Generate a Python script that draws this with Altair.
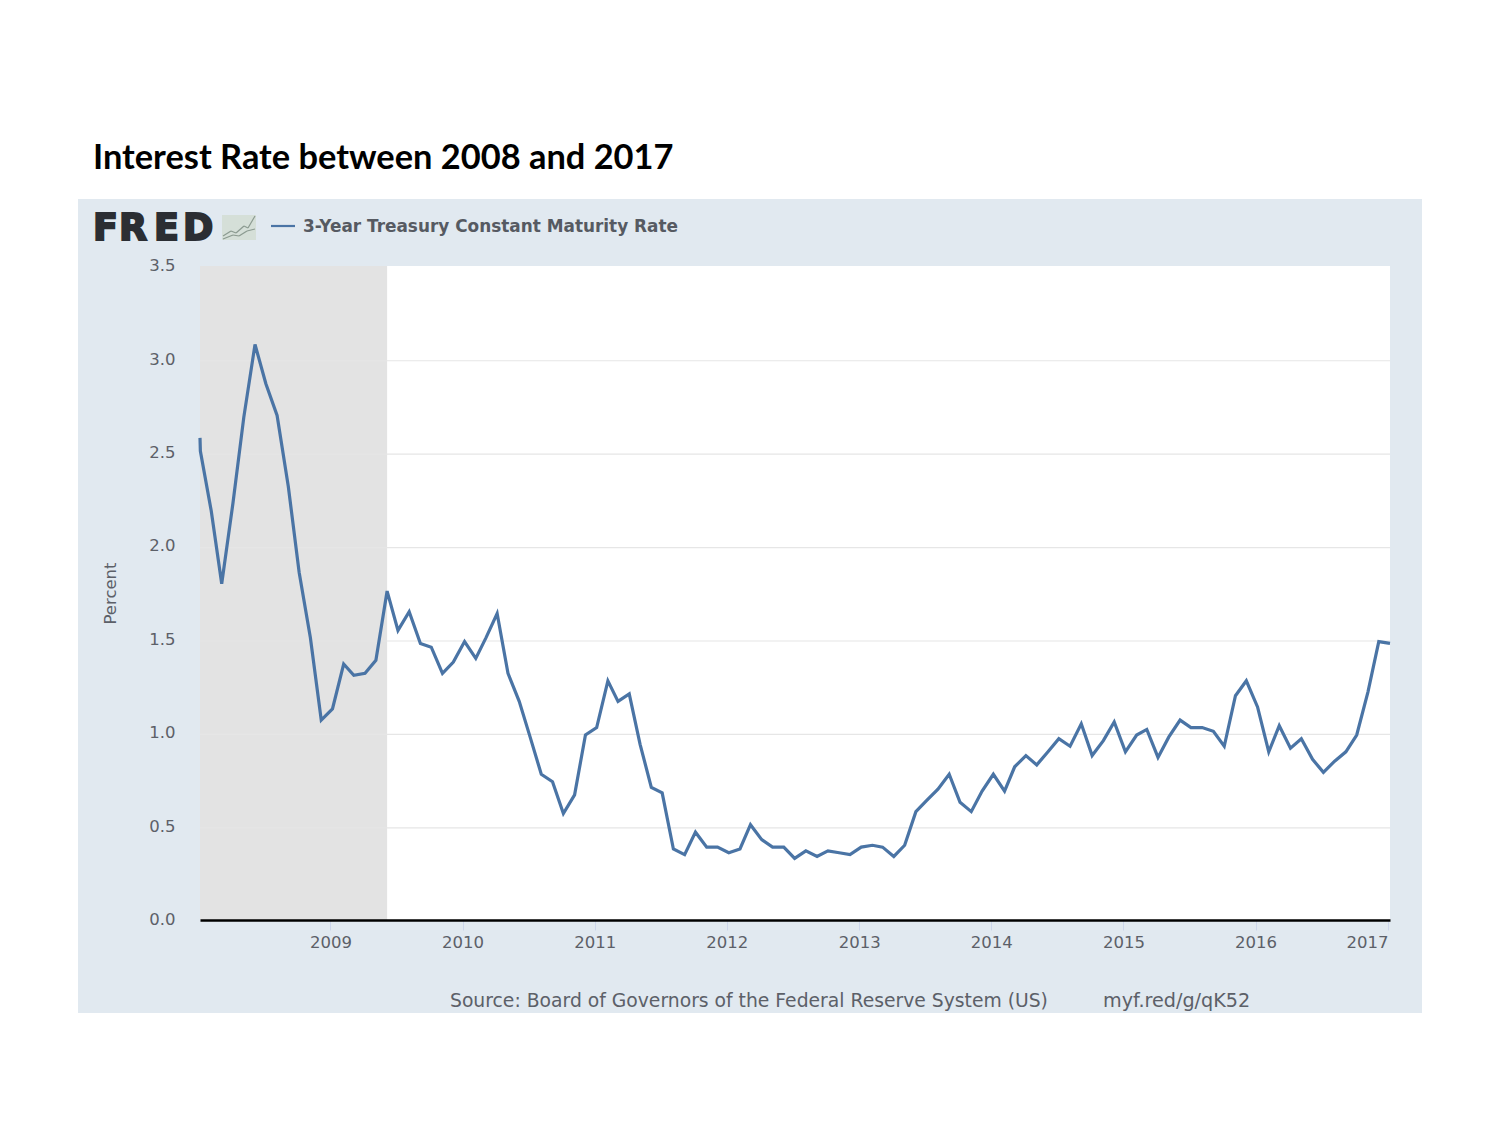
import altair as alt
import pandas as pd

TITLE = "Interest Rate between 2008 and 2017"
SERIES = "3-Year Treasury Constant Maturity Rate"
SOURCE = "Source: Board of Governors of the Federal Reserve System (US)"
LINK = "myf.red/g/qK52"

rates_2008 = [2.51, 2.19, 1.80, 2.23, 2.69, 3.08, 2.87, 2.70, 2.32, 1.86, 1.51, 1.07]
rates_2009 = [1.13, 1.37, 1.31, 1.32, 1.39, 1.76, 1.55, 1.65, 1.48, 1.46, 1.32, 1.38]
rates_2010 = [1.49, 1.40, 1.51, 1.64, 1.32, 1.17, 0.98, 0.78, 0.74, 0.57, 0.67, 0.99]
rates_2011 = [1.03, 1.28, 1.17, 1.21, 0.94, 0.71, 0.68, 0.38, 0.35, 0.47, 0.39, 0.39]
rates_2012 = [0.36, 0.38, 0.51, 0.43, 0.39, 0.39, 0.33, 0.37, 0.34, 0.37, 0.36, 0.35]
rates_2013 = [0.39, 0.40, 0.39, 0.34, 0.40, 0.58, 0.64, 0.70, 0.78, 0.63, 0.58, 0.69]
rates_2014 = [0.78, 0.69, 0.82, 0.88, 0.83, 0.90, 0.97, 0.93, 1.05, 0.88, 0.96, 1.06]
rates_2015 = [0.90, 0.99, 1.02, 0.87, 0.98, 1.07, 1.03, 1.03, 1.01, 0.93, 1.20, 1.28]
rates_2016 = [1.14, 0.90, 1.04, 0.92, 0.97, 0.86, 0.79, 0.85, 0.90, 0.99, 1.22, 1.49]
rates_2017 = [1.48]

rates = (rates_2008 + rates_2009 + rates_2010 + rates_2011 + rates_2012 + rates_2013
         + rates_2014 + rates_2015 + rates_2016 + rates_2017)
months = [d.strftime("%Y-%m-%d") for d in pd.date_range("2008-01-01", periods=len(rates), freq="MS")]
# the reference's line enters the plot from just above its January value
entry_date = ["2008-01-01"]
entry_rate = [2.58]
months[0] = "2008-01-02"

y_ticks = [0.0, 0.5, 1.0, 1.5, 2.0, 2.5, 3.0, 3.5]
grid_levels = [0.5, 1.0, 1.5, 2.0, 2.5, 3.0]
year_ticks = [f"{y}-01-01" for y in range(2009, 2018)]
recession_start = ["2008-01-01"]
recession_end = ["2009-06-01"]

df = pd.DataFrame({"date": entry_date + months, "rate": entry_rate + rates})
df_grid = pd.DataFrame({"level": grid_levels})
df_rec = pd.DataFrame({"start": recession_start, "end": recession_end})

W, H = 1190, 654
PANEL = "#e1e9f0"
LINE = "#4a74a5"
TEXT = "#5c6068"

x_scale = alt.Scale(domain=["2008-01-01", "2017-01-01"])
y_scale = alt.Scale(domain=[0, 3.5], nice=False)

x_axis = alt.Axis(
    values=year_ticks, format="%Y", title=None, grid=False, zindex=1,
    domainColor="#000000", domainWidth=2.5,
    tickColor="#ccd6eb", tickSize=10, tickWidth=1, tickOffset=-2,
    labelFlush=True, labelFont="DejaVu Sans", labelFontSize=16.5,
    labelColor=TEXT, labelPadding=4,
)
y_axis = alt.Axis(
    values=y_ticks, format=".1f", title="Percent", grid=False, zindex=1,
    domain=False, ticks=False, labelFont="DejaVu Sans", labelFontSize=16.5,
    labelColor=TEXT, labelPadding=25, labelOffset=-0.4, titleFont="DejaVu Sans",
    titleFontSize=16.5, titleFontWeight="normal", titleColor=TEXT, titlePadding=30,
)


def label(text, px, py, size, color=TEXT, weight="normal", font="DejaVu Sans", stroke=0):
    return alt.Chart().mark_text(
        text=text, align="left", baseline="alphabetic", fontSize=size,
        font=font, fontWeight=weight, color=color, stroke=color, strokeWidth=stroke,
    ).encode(x=alt.value(px - 200), y=alt.value(py - 266))


def box(x0, x1, y0, y1, color):
    return alt.Chart().mark_rect(color=color).encode(
        x=alt.value(x0 - 200), x2=alt.value(x1 - 200),
        y=alt.value(y0 - 266), y2=alt.value(y1 - 266),
    )


def seg(x0, y0, x1, y1, color, width=1.2):
    return alt.Chart().mark_rule(color=color, strokeWidth=width).encode(
        x=alt.value(x0 - 200), x2=alt.value(x1 - 200),
        y=alt.value(y0 - 266), y2=alt.value(y1 - 266),
    )


panel = box(78, 1422, 199, 1013, PANEL)
plot_bg = box(200, 1390, 266, 920, "#ffffff")

recession = alt.Chart(df_rec).mark_rect(color="#e3e3e3").encode(
    x=alt.X("start:T", scale=x_scale, axis=x_axis),
    x2="end:T",
    y=alt.value(0),
    y2=alt.value(H),
)

grid = alt.Chart(df_grid).mark_rule(color="#e6e6e6", strokeWidth=1.2, yOffset=1.3).encode(
    y=alt.Y("level:Q", scale=y_scale, axis=y_axis),
)

series = alt.Chart(df).mark_line(color=LINE, strokeWidth=3.2, strokeJoin="miter").encode(
    x=alt.X("date:T", scale=x_scale, axis=x_axis),
    y=alt.Y("rate:Q", scale=y_scale, axis=y_axis),
)

logo = [
    label(ch, px, 239.5, 36.5, "#2b2e33", "bold", stroke=2)
    for ch, px in zip("FRED", [93, 119, 154, 183])
]
icon = [box(222, 256, 215, 240, "#d5dfd8")]
icon += [seg(*s, "#8b9a90") for s in [
    (223, 236, 231, 231), (231, 231, 236, 233), (236, 233, 244, 226),
    (244, 226, 248, 228), (248, 228, 255, 216),
    (223, 239, 233, 235), (233, 235, 239, 236), (239, 236, 247, 231), (247, 231, 255, 229),
]]
legend_key = seg(271, 226, 295, 226, LINE, 2.2)
legend_text = label(SERIES, 303, 232, 16.9, "#565a62", "bold")
source = label(SOURCE, 450, 1007, 18.75)
link = label(LINK, 1103, 1007, 19.2)

chart = alt.layer(
    panel, plot_bg, recession, grid, series,
    *logo, *icon, legend_key, legend_text, source, link,
).properties(
    width=W, height=H,
    title=alt.TitleParams(
        TITLE, anchor="start", frame="group", font="Lato", fontSize=34.4,
        fontWeight="bold", color="#000000", dx=-107, offset=96, dy=100, baseline="alphabetic",
    ),
    background="#ffffff",
    padding={"left": 192, "top": 258, "right": 92, "bottom": 180},
    autosize=alt.AutoSizeParams(type="none"),
).configure_view(stroke=None)

chart.save("out.html", embed_options={"renderer": "svg", "actions": False})
